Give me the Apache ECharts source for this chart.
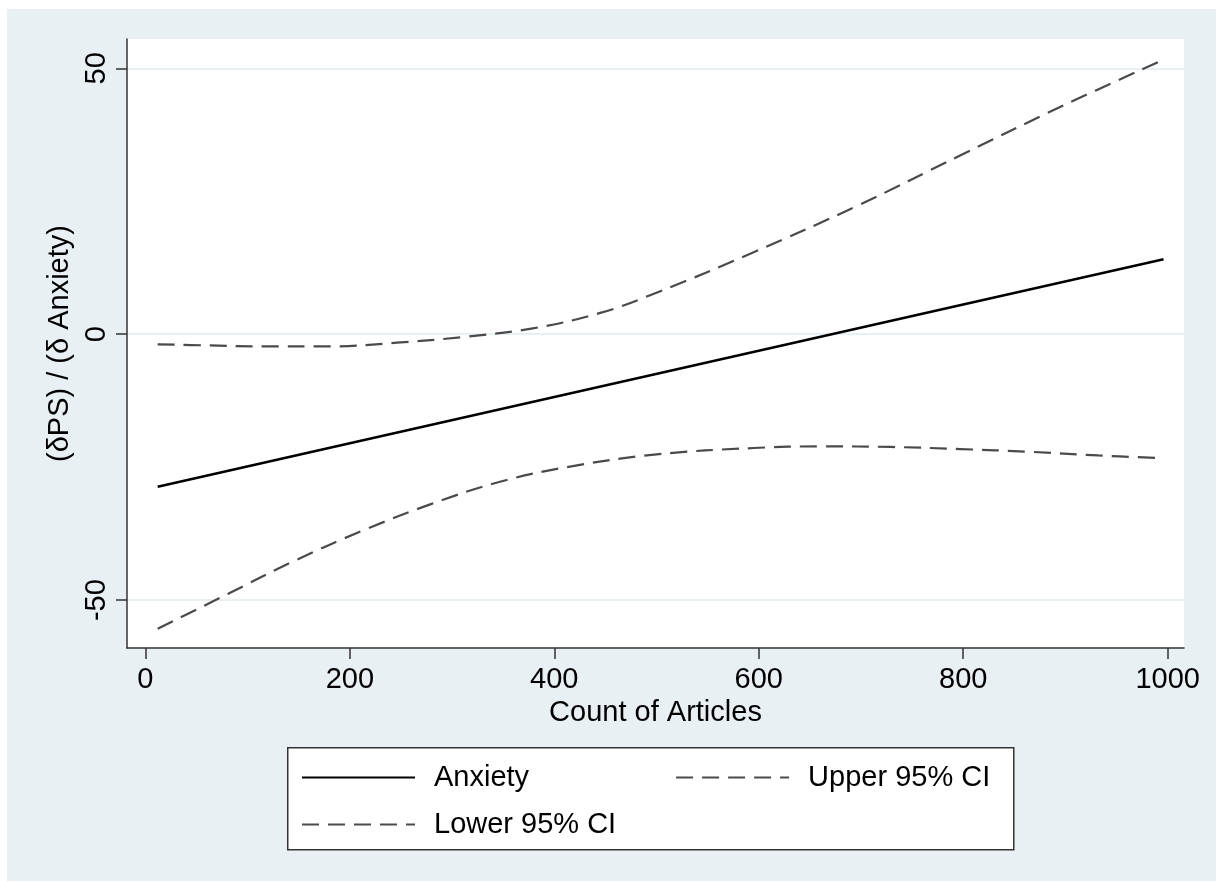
<!DOCTYPE html>
<html lang="en">
<head>
    <meta charset="UTF-8">
    <title>Marginal effect of Anxiety</title>
    <script src="https://cdn.jsdelivr.net/npm/echarts@6/dist/echarts.min.js"></script>
    <style>
        html, body { margin: 0; padding: 0; background: #fff; }
        #main { position: absolute; left: 7px; top: 9px; width: 1209px; height: 872px; }
    </style>
</head>
<body>

<div id="main"></div>

<script>
    // values
    var xTicks = [0, 200, 400, 600, 800, 1000];
    var yTicks = [-50, 0, 50];

    var anxietyX = [12, 200, 400, 600, 800, 996];
    var anxietyY = [-28.7, -20.5, -11.8, -3.1, 5.6, 14.1];

    var upperX = [12, 60, 115, 180, 246, 312, 379, 445, 500, 595, 696, 797, 898, 996];
    var upperY = [-1.9, -2.1, -2.3, -2.3, -1.6, -0.5, 1.1, 4.0, 7.8, 15.4, 24.1, 33.6, 43.0, 51.6];

    var lowerX = [12, 81, 147, 213, 280, 346, 412, 500, 595, 662, 729, 797, 864, 932, 996];
    var lowerY = [-55.4, -48.8, -42.5, -36.9, -31.9, -27.8, -25.0, -22.6, -21.4, -21.1, -21.2, -21.6, -22.1, -22.8, -23.3];

    function pairs(xs, ys) {
        var out = [];
        for (var i = 0; i < xs.length; i++) {
            out.push([xs[i], ys[i]]);
        }
        return out;
    }

    var font = 'Liberation Sans, Arial, Helvetica, sans-serif';
    var axisColor = '#333';
    var dash = [17, 9];

    var myChart = echarts.init(document.getElementById('main'));
    var option = {
        backgroundColor: '#E9F0F3',
        animation: false,
        textStyle: { fontFamily: font, color: '#000' },
        grid: {
            left: 120, top: 30, width: 1057, height: 609,
            show: true, backgroundColor: '#fff', borderWidth: 0
        },
        graphic: [{
            type: 'rect',
            left: 280, top: 738,
            shape: { width: 726, height: 102 },
            style: { fill: '#fff', stroke: axisColor, lineWidth: 1.5 },
            z: -1
        }],
        legend: [{
            data: ['Anxiety', 'Upper 95% CI'],
            left: 289, top: 749,
            itemWidth: 113, itemHeight: 14, itemGap: 146,
            itemStyle: { opacity: 0 },
            textStyle: { fontFamily: font, fontSize: 29, color: '#000', padding: [0, 0, 0, 14] }
        }, {
            data: ['Lower 95% CI'],
            left: 289, top: 796,
            itemWidth: 113, itemHeight: 14,
            itemStyle: { opacity: 0 },
            textStyle: { fontFamily: font, fontSize: 29, color: '#000', padding: [0, 0, 0, 14] }
        }],
        xAxis: {
            type: 'value',
            min: -18, max: 1016,
            name: 'Count of Articles',
            nameLocation: 'middle',
            nameGap: 47,
            nameTextStyle: { fontFamily: font, fontSize: 29, color: '#000' },
            axisLine: { show: true, onZero: false, lineStyle: { color: axisColor, width: 1.5 } },
            axisTick: { show: true, length: 11, customValues: xTicks, lineStyle: { color: axisColor, width: 1.5 } },
            axisLabel: {
                customValues: xTicks, fontFamily: font, fontSize: 29, color: '#000', margin: 17,
                formatter: function (v) { return String(v); }
            },
            splitLine: { show: false }
        },
        yAxis: {
            type: 'value',
            min: -59, max: 55.5,
            name: '(δPS) / (δ Anxiety)',
            nameLocation: 'middle',
            nameGap: 51,
            nameTextStyle: { fontFamily: font, fontSize: 29, color: '#000' },
            axisLine: { show: true, onZero: false, lineStyle: { color: axisColor, width: 1.5 } },
            axisTick: { show: true, length: 11, customValues: yTicks, lineStyle: { color: axisColor, width: 1.5 } },
            axisLabel: {
                customValues: yTicks, rotate: 90, fontFamily: font, fontSize: 29, color: '#000', margin: 16,
                formatter: function (v) { return String(v); }
            },
            splitLine: { show: true, lineStyle: { color: '#E9F0F3', width: 2 } }
        },
        series: [
            {
                name: 'Anxiety',
                type: 'line',
                symbol: 'none',
                data: pairs(anxietyX, anxietyY),
                lineStyle: { color: '#000', width: 2.5 },
                itemStyle: { color: '#000' }
            },
            {
                name: 'Upper 95% CI',
                type: 'line',
                symbol: 'none',
                smooth: 0.4,
                data: pairs(upperX, upperY),
                lineStyle: { color: '#4a4a4a', width: 2.2, type: dash },
                itemStyle: { color: '#4a4a4a' }
            },
            {
                name: 'Lower 95% CI',
                type: 'line',
                symbol: 'none',
                smooth: 0.4,
                data: pairs(lowerX, lowerY),
                lineStyle: { color: '#4a4a4a', width: 2.2, type: dash },
                itemStyle: { color: '#4a4a4a' }
            }
        ]
    };
    myChart.setOption(option);

</script>

</body>
</html>
